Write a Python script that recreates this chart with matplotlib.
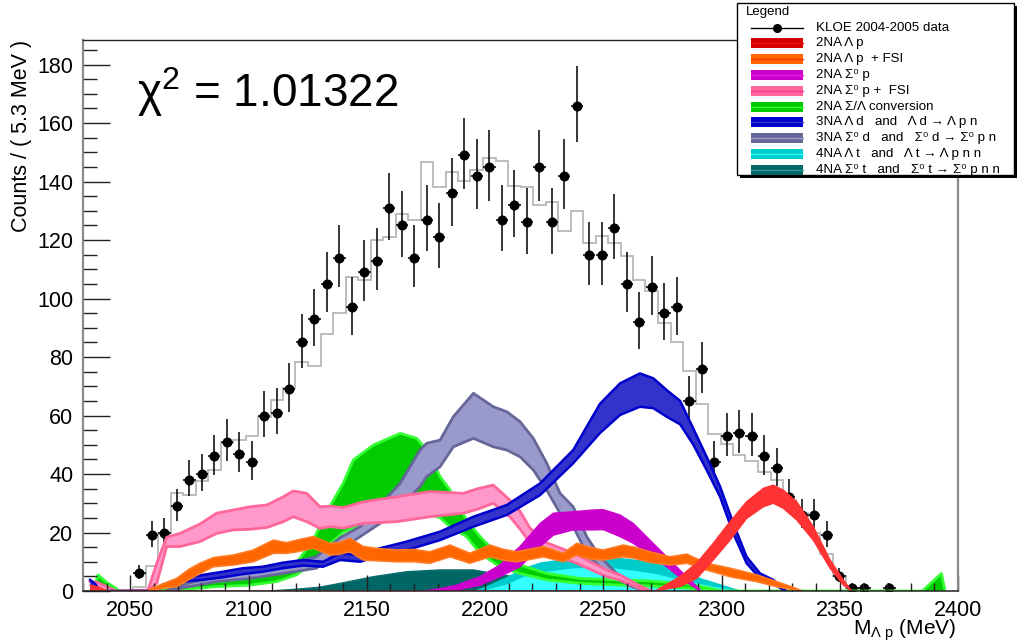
import numpy as np
import matplotlib
matplotlib.use("Agg")
import matplotlib.pyplot as plt
from matplotlib.patches import Rectangle
from matplotlib.ticker import MultipleLocator

plt.rcParams['font.family'] = ['Liberation Sans', 'DejaVu Sans']
plt.rcParams['mathtext.fontset'] = 'custom'
plt.rcParams['mathtext.rm'] = 'Liberation Sans'
plt.rcParams['mathtext.it'] = 'Liberation Sans'
plt.rcParams['mathtext.default'] = 'regular'

# ---------------------------------------------------------------- binning
edges = np.linspace(2030.0, 2400.0, 71)          # 70 bins of ~5.3 MeV

# KLOE 2004-2005 data: counts per bin
counts = [0, 0, 0, 0, 6, 19, 20, 29, 38, 40, 46, 51, 47, 44, 60, 61, 69, 85, 93, 105,
          114, 97, 109, 113, 131, 125, 114, 127, 121, 136,
          149, 142, 145, 127, 132, 126, 145, 126, 142, 166,
          115, 115, 124, 105, 92, 104, 95, 97, 65, 76,
          44, 53, 54, 53, 46, 42, 32, 26, 26, 19,
          5, 1, 1, 0, 1, 0, 0, 0, 0, 0]

# total fit, per bin
fit_total = [0, 0, 0, 0, 1.4, 8.7, 19.7, 33.5, 32.7, 37.5, 41.4, 50.5, 51.7, 53.0, 59.6,
             65.3, 69.5, 78.2, 77.0, 87.8,
             95.0, 107.5, 106.3, 120.0, 120.9, 128.8, 126.8, 146.8, 138.2, 143.1,
             140.2, 143.9, 148.1, 147.0, 138.5, 138.0, 132.0, 133.1, 123.2, 130.0,
             119.1, 121.4, 119.1, 114.6, 106.3, 102.6, 91.7, 85.0, 75.2, 63.8,
             53.7, 50.1, 46.5, 44.4, 40.8, 38.0, 31.1, 26.6, 19.7, 12.6,
             5.1, 1.0, 0, 0, 0, 0, 0, 0, 0, 0]

# ---------------------------------------------------------------- component bands
# 2NA Lambda p
red_x = [2033, 2036, 2039, 2041, 2272, 2282.4, 2289.5, 2296.5, 2303.6, 2310.6, 2317.7,
         2321.9, 2326.1, 2331.8, 2338.8, 2345.9, 2351.5, 2355]
red_lo = [0, 0, 0, 0, 0, 1.5, 4.3, 10.6, 17.4, 24.8, 28.8, 30.0, 28.3, 24.3, 17.4, 7.8, 2.1, 0]
red_hi = [2.0, 1.5, 0.5, 0, 0, 4.9, 9.5, 16.3, 23.7, 30.5, 35.1, 36.2, 34.5, 30.5, 22.0, 10.6, 3.8, 0]

# 2NA Lambda p + FSI
orange_x = [2058, 2064, 2069.6, 2075, 2079.5, 2085.1, 2093.6, 2102, 2110.5, 2116.1, 2121,
            2127.4, 2134.4, 2138, 2142.9, 2148.5, 2155, 2162.6, 2170, 2176.7, 2185.2,
            2193.6, 2202.1, 2208, 2213.4, 2219, 2224.7, 2233.1, 2238.8, 2244, 2250,
            2258.5, 2263, 2269.7, 2278.2, 2285.3, 2293.7, 2303.6, 2314.9, 2323.3, 2331.8, 2334]
orange_lo = [0, 1.0, 1.5, 4.0, 6.0, 8.3, 8.9, 10.0, 12.9, 12.9, 13.5,
             14.6, 12.3, 12.5, 13.4, 10.6, 10.3, 10.0, 10.0, 9.5, 11.7,
             9.5, 11.7, 10.5, 10.0, 10.8, 11.7, 10.0, 12.3, 11.0, 10.6,
             11.7, 11.2, 9.8, 8.9, 9.5, 7.2, 4.9, 3.2, 1.5, 0.2, 0]
orange_hi = [0.5, 2.5, 4.3, 7.5, 9.5, 11.4, 12.3, 14.0, 17.4, 16.5, 17.5,
             18.6, 16.3, 16.5, 18.0, 15.2, 14.5, 14.0, 14.2, 13.4, 15.7,
             12.9, 15.7, 14.2, 13.4, 14.3, 15.2, 12.9, 16.3, 15.0, 14.0,
             15.7, 15.0, 13.4, 11.7, 12.6, 9.5, 7.8, 5.5, 3.2, 0.8, 0]

# 2NA Sigma0 p
magenta_x = [2174, 2181, 2188, 2197.9, 2206.3, 2214.8, 2223.3, 2228.9, 2237.3, 2245.8, 2250,
             2257.1, 2262.7, 2269.7, 2276.8, 2283.8, 2290.9]
magenta_lo = [0, 0, 0.3, 2.0, 4.9, 8.3, 15.2, 19.1, 20.9, 20.9, 21.0, 18.6, 16.3, 12.3, 8.3, 3.8, 0]
magenta_hi = [0, 0.8, 2.0, 4.9, 8.9, 15.2, 23.1, 26.6, 27.1, 27.7, 27.8, 26.0, 23.1, 17.4, 11.7, 6.0, 0.5]

# 2NA Sigma0 p + FSI
pink_x = [2033, 2036, 2040, 2044, 2057.5, 2061.2, 2065.4, 2071, 2079.5, 2086.5, 2093.6,
          2100.6, 2107.7, 2114.7, 2118.9, 2124.6, 2130.2, 2134.4, 2140, 2148.5, 2162.6,
          2176.7, 2190.8, 2197, 2203.5, 2210.5, 2215, 2219, 2226, 2237.3, 2251.4, 2257,
          2265, 2270]
pink_lo = [0, 0, 0, 0, 0, 2.7, 15.2, 15.2, 16.9, 19.7, 20.9,
           21.1, 21.7, 23.7, 25.4, 23.7, 21.4, 22.0, 21.5, 23.1, 23.7,
           25.4, 26.6, 28.0, 30.0, 25.4, 21.0, 16.5, 12.5, 10.0, 4.9, 3.8,
           1.0, 0]
pink_hi = [3.2, 3.0, 1.5, 0, 0.3, 9.5, 18.4, 19.7, 22.9, 26.6, 27.7,
           28.8, 29.4, 32.2, 34.2, 33.4, 28.8, 29.0, 28.5, 30.5, 32.2,
           34.0, 33.4, 35.0, 36.2, 31.1, 27.0, 21.5, 16.5, 13.0, 7.2, 5.5,
           2.0, 0]

# 2NA Sigma/Lambda conversion
green_x = [2034.5, 2036.3, 2040, 2045.5, 2062, 2070, 2086.4, 2100.5, 2111.7, 2120.2, 2127.3,
           2134.3, 2140, 2144.3, 2152.8, 2164.1, 2171.1, 2175.3, 2181, 2185.2, 2192.2,
           2197.9, 2206.3, 2214.8, 2226.1, 2240.2, 2257.1, 2270, 2285, 2295, 2300,
           2385, 2393, 2394.5]
green_lo = [0, 0, 0, 0, 0, 0.3, 1.5, 2.0, 3.2, 5.5, 9.5,
            16.0, 20.0, 21.5, 23.0, 25.0, 26.0, 26.5, 25.0, 22.0, 18.6,
            12.9, 8.3, 6.0, 3.8, 2.6, 2.0, 1.7, 1.0, 0.2, 0,
            0, 0, 0]
green_hi = [0, 5.5, 3.0, 0, 0, 1.2, 3.2, 4.3, 6.0, 9.5, 17.4,
            28.8, 36.8, 44.8, 49.9, 53.9, 52.2, 48.2, 39.1, 34.5, 24.3,
            18.6, 11.7, 8.9, 6.0, 4.3, 3.8, 3.4, 2.5, 1.0, 0,
            0, 6.0, 0]

# 3NA Lambda d
blue_x = [2033, 2035, 2037.5, 2058.3, 2063.8, 2072.3, 2080.7, 2089.2, 2097.7, 2106.1, 2114.6,
          2123, 2131.5, 2138.7, 2147.2, 2155, 2166.9, 2181, 2195.1, 2209.2, 2223.3,
          2237.3, 2248.6, 2257.1, 2265.5, 2271.2, 2276.8, 2282.5, 2288.1, 2293.7, 2299.4,
          2305, 2310.6, 2316.3, 2321.9, 2326.8]
blue_lo = [0, 0, 0, 0, 1.2, 3.2, 3.8, 4.7, 5.8, 6.6, 7.8,
           8.7, 8.3, 10.6, 10.0, 12.0, 14.0, 17.4, 22.0, 26.0, 32.8,
           43.7, 54.0, 60.2, 63.0, 62.5, 59.6, 57.0, 50.0, 41.4, 32.2,
           19.7, 9.5, 4.3, 2.6, 0]
blue_hi = [3.8, 2.5, 0, 0, 2.2, 4.3, 5.5, 6.6, 7.8, 8.3, 9.7,
           10.6, 10.0, 12.9, 12.3, 14.5, 16.9, 20.3, 25.4, 29.4, 36.8,
           48.2, 64.0, 71.0, 74.4, 72.7, 68.7, 65.0, 55.5, 45.9, 35.7,
           23.1, 11.7, 6.0, 3.8, 0.3]

# 3NA Sigma0 d
lav_x = [2065, 2075, 2086.4, 2100.5, 2114.6, 2128.7, 2138.7, 2147.2, 2155.6, 2164.1, 2172.5,
         2175.3, 2181, 2186.6, 2195.1, 2203.5, 2209.2, 2214.8, 2220.4, 2226.1, 2231.7,
         2237.3, 2243, 2248.6, 2255.7, 2262, 2268]
lav_lo = [0, 1.5, 3.2, 4.3, 6.0, 7.8, 14.0, 18.6, 23.1, 28.8, 35.7,
          39.1, 42.5, 49.3, 52.2, 49.3, 48.2, 45.9, 41.4, 34.5, 26.6,
          22.0, 12.9, 8.3, 4.3, 1.5, 0]
lav_hi = [0, 2.8, 4.9, 6.6, 8.9, 11.7, 18.2, 22.0, 29.4, 36.8, 48.2,
          50.5, 51.6, 59.6, 67.6, 63.0, 61.3, 57.9, 52.2, 43.7, 33.4,
          28.8, 18.6, 11.7, 6.0, 2.5, 0]

# 4NA Lambda t
cyan_x = [2196, 2200, 2209.2, 2216, 2223.3, 2237.3, 2251.4, 2262.7, 2272.6, 2283.8, 2295.1, 2307.8]
cyan_lo = [0, 0.5, 2.5, 5.0, 6.5, 8.0, 8.3, 7.2, 6.0, 3.8, 2.0, 0]
cyan_hi = [0, 1.2, 4.5, 7.5, 9.5, 11.2, 11.7, 10.6, 9.5, 6.0, 3.2, 0]

# 4NA Sigma0 t
teal_x = [2109, 2120, 2130, 2138.7, 2152.8, 2166.9, 2181, 2195.1, 2203.5, 2215, 2230, 2250, 2262]
teal_hi = [0, 0.6, 1.3, 2.6, 4.9, 6.6, 7.2, 7.2, 6.0, 4.5, 3.0, 1.5, 0]

labels = ["KLOE 2004-2005 data",
          "2NA Λ p",
          "2NA Λ p  + FSI",
          "2NA Σ⁰ p",
          "2NA Σ⁰ p +  FSI",
          "2NA Σ/Λ conversion",
          "3NA Λ d   and   Λ d → Λ p n",
          "3NA Σ⁰ d   and   Σ⁰ d → Σ⁰ p n",
          "4NA Λ t   and   Λ t → Λ p n n",
          "4NA Σ⁰ t   and   Σ⁰ t → Σ⁰ p n n"]
legend_colors = [("#d50000", "#ee1111"), ("#ff6600", "#ff3300"), ("#cc00cc", "#dd22dd"),
                 ("#ff6699", "#ff3399"), ("#00cc00", "#33ff33"), ("#0000cc", "#3333cc"),
                 ("#666699", "#9999cc"), ("#00cccc", "#33ffff"), ("#006666", "#339999")]

# ---------------------------------------------------------------- figure
fig = plt.figure(figsize=(10.19, 6.44), dpi=100)
W, H = 1019.0, 644.0
ax = fig.add_axes([83 / W, 1 - 591 / H, (958 - 83) / W, (591 - 40) / H])
ax.set_xlim(2030, 2400)
ax.set_ylim(0, 188.4)

centers = 0.5 * (edges[:-1] + edges[1:])
halfw = 0.5 * (edges[1] - edges[0])
n = np.asarray(counts, float)
fit = np.asarray(fit_total, float)

# total fit as a step histogram
ax.stairs(fit[3:63], edges[3:64], baseline=None, color="#b8b8b8", lw=1.3, zorder=1.0)

# data with Poisson errors
m = n > 0
err_lo = np.sqrt(n[m] + 0.25) - 0.5
err_hi = np.sqrt(n[m] + 0.25) + 0.5
ax.errorbar(centers[m], n[m], yerr=[err_lo, err_hi], xerr=halfw, fmt="o", ms=6.2,
            color="black", mec="black", elinewidth=1.1, capsize=0, zorder=1.05)


def draw_band(x, lo, hi, fill, edge, z, lw=1.4):
    x = np.asarray(x, float)
    lo = np.asarray(lo, float)
    hi = np.asarray(hi, float)
    ax.fill_between(x, lo, hi, facecolor=fill, edgecolor="none", lw=0, zorder=z)
    for curve in (hi, lo):
        on = curve > 0
        keep = on | np.r_[on[1:], False] | np.r_[False, on[:-1]]
        ax.plot(x, np.where(keep, curve, np.nan), color=edge, lw=lw, zorder=z,
                solid_joinstyle="round")


draw_band(teal_x, np.zeros(len(teal_x)), teal_hi, "#006666", "#0b6f6f", 1.10, lw=1.0)
ax.fill_between(cyan_x, 0, cyan_lo, facecolor="#33ffff", edgecolor="none", zorder=1.19)
draw_band(cyan_x, cyan_lo, cyan_hi, "#00cccc", "#00cccc", 1.20, lw=1.0)
draw_band(green_x, green_lo, green_hi, "#00cc00", "#33ff33", 1.30, lw=2.0)
draw_band(lav_x, lav_lo, lav_hi, "#9999cc", "#666699", 1.40, lw=2.0)
draw_band(pink_x, pink_lo, pink_hi, "#ff99cc", "#ff6699", 1.50, lw=2.0)
draw_band(magenta_x, magenta_lo, magenta_hi, "#cc00cc", "#cc00cc", 1.60, lw=1.0)
draw_band(blue_x, blue_lo, blue_hi, "#3333cc", "#0000cc", 1.70, lw=1.8)
draw_band(orange_x, orange_lo, orange_hi, "#ff6600", "#ff7a22", 1.80, lw=1.2)
draw_band(red_x, red_lo, red_hi, "#ff3333", "#ff3333", 1.90, lw=1.0)

# axes styling
ax.xaxis.set_major_locator(MultipleLocator(50))
ax.xaxis.set_minor_locator(MultipleLocator(10))
ax.yaxis.set_major_locator(MultipleLocator(20))
ax.yaxis.set_minor_locator(MultipleLocator(5))
ax.tick_params(axis="x", which="major", direction="in", length=11.5, width=1.0,
               color="#222222", labelsize=15.5, pad=6.5)
ax.tick_params(axis="x", which="minor", direction="in", length=5.8, width=1.0, color="#222222")
ax.tick_params(axis="y", which="major", direction="in", length=19.5, width=1.0,
               color="#222222", labelsize=15.5, pad=7)
ax.tick_params(axis="y", which="minor", direction="in", length=10, width=1.0, color="#222222")
for side, col, lw in (("left", "#8a8a8a", 1.6), ("bottom", "#222222", 1.1),
                      ("top", "#222222", 1.0), ("right", "#8a8a8a", 1.6)):
    ax.spines[side].set_color(col)
    ax.spines[side].set_linewidth(lw)

fig.text(22 / W, 1 - 40 / H, "Counts / ( 5.3 MeV )", rotation=90, ha="center", va="top",
         fontsize=15.5)
fig.text(956 / W, 1 - 635 / H, r"M$_{\Lambda\ p}$ (MeV)", ha="right", va="baseline",
         fontsize=15)
fig.text(137 / W, 1 - 107 / H, r"$\chi^{2}$ = 1.01322", ha="left", va="baseline", fontsize=33)

# ---------------------------------------------------------------- legend box
lax = fig.add_axes([0, 0, 1, 1], zorder=10)
lax.set_xlim(0, W)
lax.set_ylim(H, 0)
lax.axis("off")
bx0, by0, bx1, by1 = 737, 3, 1014, 175
lax.add_patch(Rectangle((bx0 + 3, by0 + 3), bx1 - bx0, by1 - by0, facecolor="black",
                        edgecolor="none"))
lax.add_patch(Rectangle((bx0, by0), bx1 - bx0, by1 - by0, facecolor="white",
                        edgecolor="black", lw=1.0))
lax.text(746, 12, "Legend", ha="left", va="center", fontsize=9.5)

row0, step = 27.5, 15.8
sx0, sx1 = 751, 803
lax.plot([sx0, sx1], [row0, row0], color="black", lw=1.0)
lax.plot([0.5 * (sx0 + sx1)], [row0], "o", color="black", ms=5.5)
lax.text(816, row0, labels[0], ha="left", va="center", fontsize=9.6)
for i, (fc, lc) in enumerate(legend_colors):
    yc = row0 + step * (i + 1)
    lax.add_patch(Rectangle((sx0, yc - 5), sx1 - sx0, 10, facecolor=fc, edgecolor="none"))
    lax.plot([sx0, sx1], [yc, yc], color=lc, lw=1.0)
    lax.text(816, yc, labels[i + 1], ha="left", va="center", fontsize=9.6)

fig.savefig("out.png", dpi=100)
